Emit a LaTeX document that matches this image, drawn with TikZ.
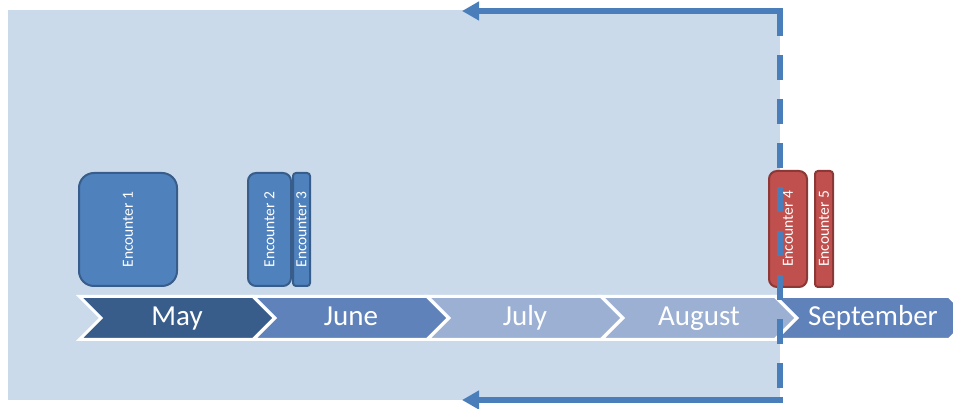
\documentclass[tikz,border=0pt]{standalone}
\usepackage{fontspec}
\setmainfont{Carlito}
\usetikzlibrary{positioning, arrows.meta, shapes.symbols}

\definecolor{bgblue}{HTML}{CADAEB}
\definecolor{loopblue}{HTML}{4A7EBB}
\definecolor{maydark}{HTML}{385D8A}
\definecolor{midblue}{HTML}{5F82BA}
\definecolor{paleblue}{HTML}{9BB0D3}
\definecolor{encblue}{HTML}{4F81BD}
\definecolor{encblueline}{HTML}{385D8A}
\definecolor{encred}{HTML}{C0504D}
\definecolor{encredline}{HTML}{8C3836}

\begin{document}
\begin{tikzpicture}[
            x=1pt, y=1pt,
            month/.style={signal, signal from=west, signal to=east, draw=white, line width=3pt, minimum width=195pt, minimum height=43pt, inner sep=0pt, outer sep=0pt, text=white, text height=20pt, text depth=4pt, font=\fontsize{29}{32}\selectfont},
            encounter/.style={rectangle, draw=encblueline, fill=encblue, line width=2pt, minimum height=113pt, inner sep=0pt, outer sep=0pt, text=white, font=\fontsize{15.5}{17}\selectfont},
            red_encounter/.style={encounter, draw=encredline, fill=encred, minimum height=116pt},
            loop_line/.style={draw=loopblue, line width=5.5pt},
            loop_arrow/.style={loop_line, -{Triangle[length=17pt, width=18pt]}}
        ]
            \useasboundingbox (0,0) rectangle (953,409);

            % --- Background window ---
            \fill[bgblue] (8,9) rectangle (780,399);

            % --- Place the month chevrons ---
            \node[month, fill=maydark] (may) at (177,91) {May};
            \node[month, fill=midblue] (june) at ([xshift=174pt]may.center) {June};
            \node[month, fill=paleblue] (july) at ([xshift=174pt]june.center) {July};
            \node[month, fill=paleblue] (august) at ([xshift=174pt]july.center) {August};
            \node[month, fill=midblue] (september) at ([xshift=174pt]august.center) {September};

            % --- Encounters ---
            \node[encounter, minimum width=98pt, rounded corners=15pt] (enc1) at (128,179.5) {\rotatebox{90}{Encounter 1}};
            \node[encounter, minimum width=43pt, rounded corners=8pt] (enc2) at (269.5,179.5) {\rotatebox{90}{Encounter 2}};
            \node[encounter, minimum width=17pt, rounded corners=3pt, right=2pt of enc2] (enc3) {\rotatebox{90}{Encounter 3}};
            \node[red_encounter, minimum width=38pt, rounded corners=8pt] (enc4) at (788,180) {\rotatebox{90}{Encounter 4}};
            \node[red_encounter, minimum width=18pt, rounded corners=3pt, right=8pt of enc4] (enc5) {\rotatebox{90}{Encounter 5}};

            % --- Loop back arrows ---
            \coordinate (loop_top) at (780,398);
            \coordinate (loop_bottom) at (780,9);
            \coordinate (back_top) at (462,398);
            \coordinate (back_bottom) at (462,9);
            \draw[loop_arrow] ([xshift=2.75pt]loop_top) -- (back_top);
            \draw[loop_line, dash pattern=on 25pt off 19pt] (loop_top) -- (loop_bottom);
            \draw[loop_arrow] ([xshift=2.75pt]loop_bottom) -- (back_bottom);

        \end{tikzpicture}
\end{document}
